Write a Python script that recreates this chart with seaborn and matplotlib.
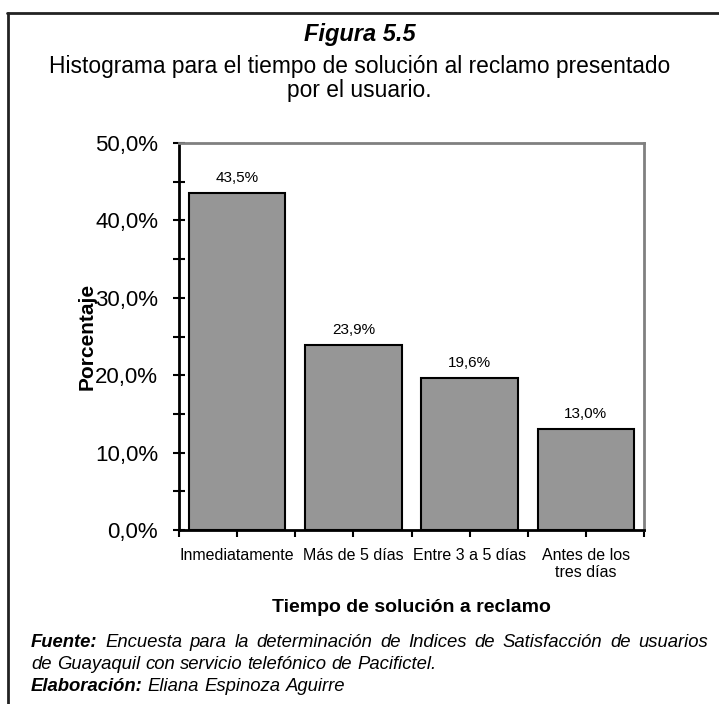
import numpy as np
import pandas as pd
import matplotlib
matplotlib.use("Agg")
import matplotlib.pyplot as plt
from matplotlib.ticker import MultipleLocator, FixedLocator, FuncFormatter
from matplotlib.lines import Line2D
import seaborn as sns

# datos de la figura
categorias = ["Inmediatamente", "Más de 5 días", "Entre 3 a 5 días", "Antes de los\ntres días"]
porcentajes = [43.5, 23.9, 19.6, 13.0]
etiquetas = ["43,5%", "23,9%", "19,6%", "13,0%"]

titulo = "Figura 5.5"
subtitulo = "Histograma para el tiempo de solución al reclamo presentado\npor el usuario."
eje_x = "Tiempo de solución a reclamo"
eje_y = "Porcentaje"
fuente = "Encuesta para la determinación de Indices de Satisfacción de usuarios"
fuente2 = "de Guayaquil con servicio telefónico de Pacifictel."
elaboracion = "Eliana Espinoza Aguirre"

sns.set_theme(style="white")
plt.rcParams["font.family"] = ["Liberation Sans", "DejaVu Sans"]
plt.rcParams["text.color"] = "black"
plt.rcParams["axes.labelcolor"] = "black"
plt.rcParams["xtick.color"] = "black"
plt.rcParams["ytick.color"] = "black"

df = pd.DataFrame({"tiempo": categorias, "pct": porcentajes})

fig = plt.figure(figsize=(7.19, 7.04), dpi=100)
W, H = 719.0, 704.0
ax = fig.add_axes([179 / W, 1 - 530 / H, (644 - 179) / W, (530 - 143) / H])

sns.barplot(data=df, x="tiempo", y="pct", color="#969696", saturation=1,
            width=0.83, edgecolor="black", linewidth=1.5, ax=ax)
ax.bar_label(ax.containers[0], labels=etiquetas, padding=6, fontsize=11, color="black")

ax.set_xlim(-0.5, 3.5)
ax.set_ylim(0, 50)

# eje y
ax.yaxis.set_major_locator(MultipleLocator(10))
ax.yaxis.set_minor_locator(MultipleLocator(5))
ax.yaxis.set_major_formatter(FuncFormatter(lambda v, p: f"{v:.1f}%".replace(".", ",")))
ax.tick_params(axis="y", which="both", direction="inout", length=8, width=1.5,
               color="black", left=True)
ax.tick_params(axis="y", which="major", labelsize=16, pad=11)

# eje x: etiquetas en el centro, marcas tambien en los limites
ax.xaxis.set_minor_locator(FixedLocator(np.arange(-0.5, 4.0, 1.0)))
ax.tick_params(axis="x", which="both", direction="out", length=5, width=1.5,
               color="black", bottom=True)
ax.tick_params(axis="x", which="major", labelsize=11.5, pad=8)
for t in ax.get_xticklabels():
    t.set_linespacing(1.2)

ax.set_xlabel(eje_x, fontsize=14, fontweight="bold")
ax.xaxis.set_label_coords(0.5, ((H - 607) / H - (1 - 530 / H)) / ((530 - 143) / H))
ax.xaxis.label.set_va("center")
ax.set_ylabel(eje_y, fontsize=15, fontweight="bold")
ax.yaxis.set_label_coords((87 - 179) / (644 - 179), 0.5)
ax.yaxis.label.set_va("center")

for lado in ["left", "bottom"]:
    ax.spines[lado].set_color("black")
    ax.spines[lado].set_linewidth(2)
for lado in ["top", "right"]:
    ax.spines[lado].set_color("#808080")
    ax.spines[lado].set_linewidth(2)
ax.set_facecolor("white")

# titulos
fig.text(0.5, 1 - 35 / H, titulo, fontsize=17, fontweight="bold", style="italic",
         ha="center", va="center")
fig.text(0.5, 1 - 78.5 / H, subtitulo, fontsize=16.4, ha="center", va="center",
         linespacing=1.1)

# marco (solo arriba e izquierda, la imagen esta recortada)
fig.add_artist(Line2D([7 / W, 1], [1 - 12.5 / H, 1 - 12.5 / H], color="#222222", lw=2))
fig.add_artist(Line2D([8 / W, 8 / W], [0, 1 - 12.5 / H], color="#222222", lw=2))

# notas al pie
renderer = fig.canvas.get_renderer()
tam_nota = 13.3


def linea(partes, y_px, x0_px, x1_px=None):
    palabras = []
    for texto, peso in partes:
        for w in texto.split():
            t = fig.text(0, 1 - (y_px + 5) / H, w, fontsize=tam_nota, style="italic",
                         fontweight=peso, ha="left", va="baseline")
            palabras.append(t)
    anchos = [t.get_window_extent(renderer).width for t in palabras]
    if x1_px is None:
        hueco = 0.278 * tam_nota * 100 / 72
    else:
        hueco = (x1_px - x0_px - sum(anchos)) / (len(palabras) - 1)
    x = x0_px
    for t, a in zip(palabras, anchos):
        t.set_x(x / W)
        x += a + hueco


linea([("Fuente:", "bold"), (fuente, "normal")], 642, 31, 708)
linea([(fuente2, "normal")], 664, 31)
linea([("Elaboración:", "bold"), (elaboracion, "normal")], 686, 31)

fig.savefig("out.png", dpi=100)
